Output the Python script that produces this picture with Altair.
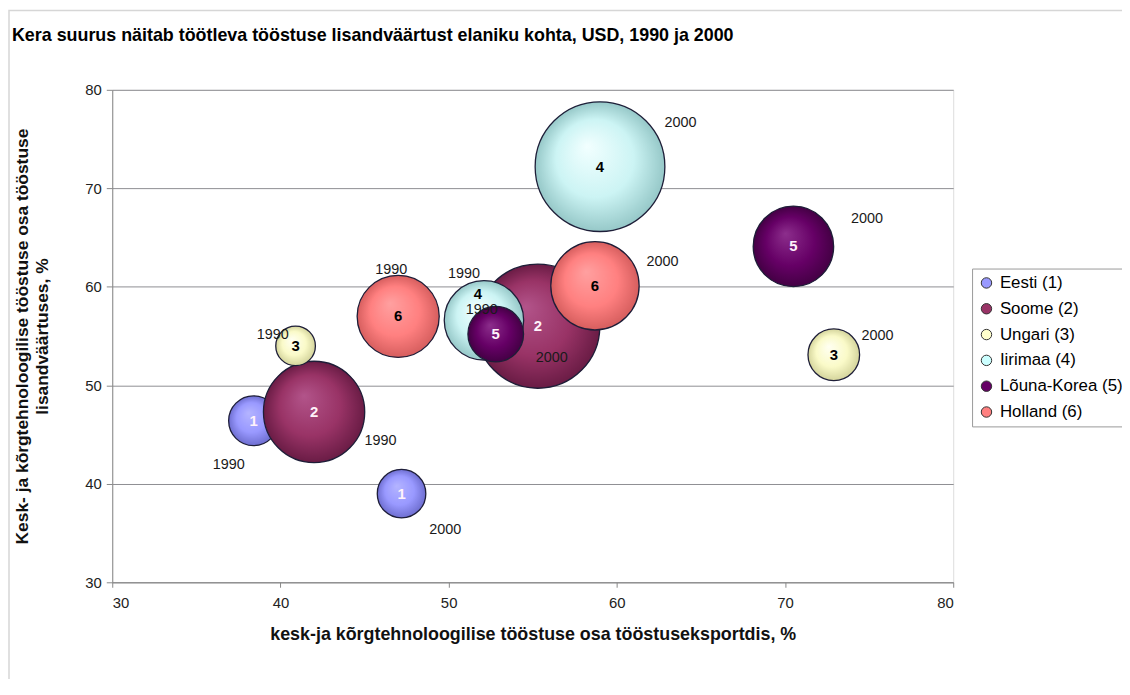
import altair as alt
import pandas as pd

# ---------------- data ----------------
countries = ["Eesti (1)", "Soome (2)", "Ungari (3)", "Iirimaa (4)", "Lõuna-Korea (5)", "Holland (6)"]
numbers = ["1", "2", "3", "4", "5", "6"]
years = ["1990", "2000"]

# x: kesk- ja kõrgtehnoloogilise tööstuse osa tööstuseksportdis, %
export_1990 = [38.4, 42.0, 40.9, 52.1, 52.8, 47.0]
export_2000 = [47.2, 55.3, 72.9, 59.0, 70.5, 58.7]
# y: ... osa tööstuse lisandväärtuses, %
valueadd_1990 = [46.4, 47.3, 54.0, 56.6, 55.2, 57.0]
valueadd_2000 = [39.0, 56.0, 53.1, 72.2, 64.1, 60.1]
# bubble size: töötleva tööstuse lisandväärtus elaniku kohta, USD
usd_1990 = [1040, 4310, 660, 2650, 1300, 2830]
usd_2000 = [990, 6470, 1120, 7070, 2720, 3280]

# ---------------- styles ----------------
FONT = "Liberation Sans"
base_colors = ["#9999FF", "#993366", "#FFFFCC", "#CCFFFF", "#660066", "#FF8080"]
shade = {  # highlight, mid, edge
    "Eesti (1)": ("#B4B4FF", "#9999FF", "#6E6ED0"),
    "Soome (2)": ("#B2548A", "#993366", "#6A1C45"),
    "Ungari (3)": ("#FFFFF2", "#FAFAC8", "#D4D49C"),
    "Iirimaa (4)": ("#F2FFFF", "#CCF4F4", "#96C8C8"),
    "Lõuna-Korea (5)": ("#8C2E8C", "#660066", "#440044"),
    "Holland (6)": ("#FFA0A0", "#FF8080", "#D65E5E"),
}
# pixel offsets of the year labels and number labels relative to bubble centres
year_offset = {
    ("Eesti (1)", "1990"): (-25, 45), ("Eesti (1)", "2000"): (44, 37),
    ("Soome (2)", "1990"): (67, 29), ("Soome (2)", "2000"): (14, 32),
    ("Ungari (3)", "1990"): (-23, -11), ("Ungari (3)", "2000"): (44, -19),
    ("Iirimaa (4)", "1990"): (-20, -47), ("Iirimaa (4)", "2000"): (81, -44),
    ("Lõuna-Korea (5)", "1990"): (-14, -24), ("Lõuna-Korea (5)", "2000"): (74, -28),
    ("Holland (6)", "1990"): (-7, -47), ("Holland (6)", "2000"): (68, -24),
}
number_offset = {("Iirimaa (4)", "1990"): (-6, -26)}

rows = []
for i, c in enumerate(countries):
    for yr, xs, ys, ss in (("1990", export_1990, valueadd_1990, usd_1990),
                           ("2000", export_2000, valueadd_2000, usd_2000)):
        ydx, ydy = year_offset[(c, yr)]
        ndx, ndy = number_offset.get((c, yr), (0, 0))
        rows.append(dict(country=c, num=numbers[i], year=yr, export=xs[i], va=ys[i],
                         usd=ss[i], ydx=ydx, ydy=ydy, ndx=ndx, ndy=ndy))
df = pd.DataFrame(rows)


def grad(c):
    hi, mid, lo = shade[c]
    return {"gradient": "radial", "x1": 0.4, "y1": 0.34, "r1": 0.0,
            "x2": 0.5, "y2": 0.5, "r2": 0.5,
            "stops": [{"offset": 0.0, "color": hi},
                      {"offset": 0.6, "color": mid},
                      {"offset": 1.0, "color": lo}]}


fill_def = {
    "condition": [{"test": "datum.country === '%s'" % c, "value": grad(c)} for c in countries[:-1]],
    "value": grad(countries[-1]),
}

ticks = [30, 40, 50, 60, 70, 80]
xenc = alt.X("export:Q",
             scale=alt.Scale(domain=[30, 80], nice=False, zero=False),
             axis=alt.Axis(values=ticks, grid=False,
                           title="kesk-ja kõrgtehnoloogilise tööstuse osa tööstuseksportdis, %",
                           titleFontSize=18, titleFontWeight="bold", titleFont=FONT,
                           titleColor="#111", titlePadding=16,
                           labelFontSize=15, labelFont=FONT, labelColor="#222",
                           labelPadding=8, tickSize=5, tickColor="#888",
                           domainColor="#888"))
yenc = alt.Y("va:Q",
             scale=alt.Scale(domain=[30, 80], nice=False, zero=False),
             axis=alt.Axis(values=ticks, grid=True, gridColor="#8E8E92", gridWidth=1,
                           title=["Kesk- ja kõrgtehnoloogilise tööstuse osa tööstuse",
                                  "lisandväärtuses, %"],
                           titleFontSize=17.5, titleFontWeight="bold", titleFont=FONT,
                           titleColor="#111", titlePadding=34, titleLineHeight=20,
                           labelFontSize=15, labelFont=FONT, labelColor="#222",
                           labelPadding=5, tickSize=6, tickColor="#888",
                           domainColor="#888"))
senc = alt.Size("usd:Q", scale=alt.Scale(domain=[0, 7000], range=[0, 16900], zero=True),
                legend=None)

base = alt.Chart(df)

legend_layer = base.mark_circle(opacity=1).encode(
    x=xenc, y=yenc, size=senc,
    color=alt.Color("country:N",
                    scale=alt.Scale(domain=countries, range=base_colors),
                    legend=alt.Legend(title=None, orient="none", legendX=866, legendY=180,
                                      labelFont=FONT, labelFontSize=17, labelColor="#000",
                                      symbolType="circle", symbolSize=110,
                                      symbolStrokeColor="#333", symbolStrokeWidth=1,
                                      symbolOpacity=1, strokeColor="#999",
                                      fillColor="white", padding=6, rowPadding=8,
                                      labelOffset=5, labelLimit=300)),
)

bubbles = base.mark_point(shape="circle", filled=True, opacity=1,
                          stroke="#1E1E38", strokeWidth=1.3).encode(
    x=xenc, y=yenc, size=senc, fill=fill_def,
)

num_labels = base.mark_text(font=FONT, fontSize=15, fontWeight="bold",
                            dx=alt.ExprRef(expr="datum.ndx"),
                            dy=alt.ExprRef(expr="datum.ndy")).encode(
    x=xenc, y=yenc, text="num:N",
    color=alt.condition("indexof(['1','2','5'], datum.num) >= 0",
                        alt.value("#FFF2FA"), alt.value("#000000")),
)

year_labels = base.mark_text(font=FONT, fontSize=14.5, color="#1A1A1A",
                             dx=alt.ExprRef(expr="datum.ydx"),
                             dy=alt.ExprRef(expr="datum.ydy")).encode(
    x=xenc, y=yenc, text="year:N",
)

frame = alt.Chart(alt.Data(values=[{"f": 1}])).mark_rect(
    fill=None, stroke="#D6D6D6", strokeWidth=1.5).encode(
    x=alt.value(-104), x2=alt.value(1100), y=alt.value(-80), y2=alt.value(700),
)

chart = alt.layer(frame, legend_layer, bubbles, num_labels, year_labels).properties(
    width=847, height=496,
    autosize=alt.AutoSizeParams(type="none"),
    padding={"left": 105, "top": 80, "right": 170, "bottom": 95},
    title=alt.TitleParams(
        "Kera suurus näitab töötleva tööstuse lisandväärtust elaniku kohta, USD, 1990 ja 2000",
        anchor="start", frame="group", dx=-101, offset=-36,
        font=FONT, fontSize=18, fontWeight="bold", color="#000"),
).configure_view(fill="#C7C6CB", stroke=None).configure(background="white")

chart.save("out.html", embed_options={"renderer": "svg", "actions": False})
